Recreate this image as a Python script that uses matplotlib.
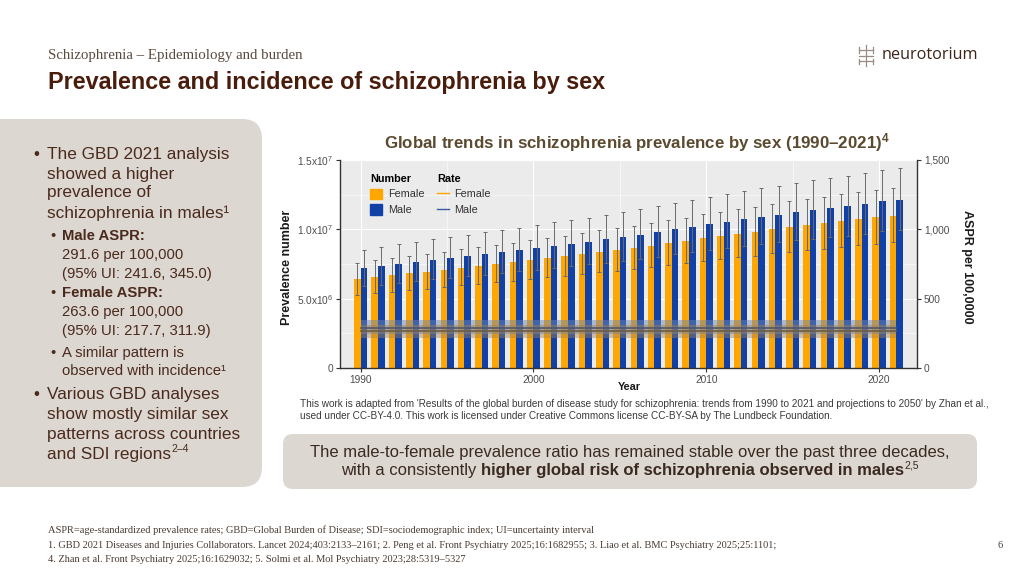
import numpy as np
import matplotlib.pyplot as plt
from matplotlib.patches import FancyBboxPatch, Patch
from matplotlib.lines import Line2D
from matplotlib.ticker import MultipleLocator

plt.rcParams['font.family'] = ['Liberation Sans', 'DejaVu Sans']
plt.rcParams['mathtext.fontset'] = 'custom'
plt.rcParams['mathtext.rm'] = 'Liberation Sans'
plt.rcParams['mathtext.bf'] = 'Liberation Sans:bold'
plt.rcParams['mathtext.it'] = 'Liberation Sans:italic'

# --- data (prevalence number in millions) ---
years = list(range(1990, 2022))
female_num = [6.41, 6.55, 6.68, 6.82, 6.95, 7.09, 7.23, 7.36, 7.50, 7.63, 7.77, 7.91, 8.05, 8.21, 8.37, 8.51,
              8.67, 8.83, 8.98, 9.16, 9.34, 9.52, 9.66, 9.82, 10.01, 10.16, 10.29, 10.43, 10.57, 10.73, 10.86, 10.98]
female_lo = [5.29, 5.40, 5.51, 5.63, 5.73, 5.85, 5.96, 6.07, 6.19, 6.29, 6.41, 6.53, 6.64, 6.77, 6.91, 7.02,
             7.15, 7.28, 7.41, 7.56, 7.71, 7.85, 7.97, 8.10, 8.26, 8.38, 8.49, 8.60, 8.72, 8.85, 8.96, 9.06]
female_hi = [7.60, 7.76, 7.92, 8.08, 8.24, 8.40, 8.57, 8.72, 8.89, 9.04, 9.21, 9.37, 9.54, 9.73, 9.92, 10.08,
             10.27, 10.46, 10.64, 10.85, 11.07, 11.28, 11.45, 11.64, 11.86, 12.04, 12.19, 12.36, 12.53, 12.72, 12.87, 13.01]
male_num = [7.18, 7.33, 7.49, 7.64, 7.79, 7.94, 8.08, 8.22, 8.36, 8.51, 8.65, 8.82, 8.97, 9.11, 9.27, 9.44,
            9.62, 9.81, 10.01, 10.19, 10.37, 10.54, 10.71, 10.88, 11.05, 11.23, 11.38, 11.51, 11.65, 11.82, 12.01, 12.13]
male_lo = [5.89, 6.01, 6.14, 6.26, 6.39, 6.51, 6.63, 6.74, 6.86, 6.98, 7.09, 7.23, 7.36, 7.47, 7.60, 7.74,
           7.89, 8.04, 8.21, 8.36, 8.50, 8.64, 8.78, 8.92, 9.06, 9.21, 9.33, 9.44, 9.55, 9.69, 9.85, 9.95]
male_hi = [8.54, 8.72, 8.91, 9.09, 9.27, 9.45, 9.62, 9.78, 9.95, 10.13, 10.29, 10.50, 10.67, 10.84, 11.03, 11.23,
           11.45, 11.67, 11.91, 12.13, 12.34, 12.54, 12.74, 12.95, 13.15, 13.36, 13.54, 13.70, 13.86, 14.07, 14.29, 14.43]

# age-standardised prevalence rate per 100,000 (point, lower, upper)
female_rate = [263.6, 217.7, 311.9]
male_rate = [291.6, 241.6, 345.0]

ORANGE = '#FFA600'
BLUE = '#1140A6'
BROWN = '#4a2a1c'
BOX = '#ddd7d1'

fig = plt.figure(figsize=(10.24, 5.76), dpi=100)
fig.patch.set_facecolor('white')
renderer = fig.canvas.get_renderer()

# background axes in pixel coordinates for the slide furniture
bg = fig.add_axes([0, 0, 1, 1])
bg.set_xlim(0, 1024)
bg.set_ylim(576, 0)
bg.axis('off')

bg.add_patch(FancyBboxPatch((-40, 119), 302, 368, boxstyle='round,pad=0,rounding_size=20',
                            fc=BOX, ec='none'))
bg.add_patch(FancyBboxPatch((283, 434), 694, 55, boxstyle='round,pad=0,rounding_size=10',
                            fc=BOX, ec='none'))

bg.text(48, 56, 'Schizophrenia \u2013 Epidemiology and burden', family='Liberation Serif',
        fontsize=10.7, color='#5a4a3e', va='center')
bg.text(48, 83, 'Prevalence and incidence of schizophrenia by sex', fontsize=16.8,
        fontweight='bold', color='#4a1c0c', va='center')

# logo
bg.text(882, 55, 'neurotorium', family='Open Sans', fontsize=11.7, color='#3d2418', va='center')
for seg in [((866, 866), (45, 66)), ((859, 873), (50, 50)), ((859, 873), (56, 56)), ((859, 873), (61, 61)),
            ((859, 859), (47, 53)), ((873, 873), (47, 53)), ((859, 859), (59, 64)), ((873, 873), (59, 64))]:
    bg.add_line(Line2D(seg[0], seg[1], color='#9a8c84', lw=0.9))

# left bullet text
big = 12.4
small = 10.7
bg.text(33, 154, '\u2022', fontsize=big, color=BROWN, va='center')
for y, s in [(154, 'The GBD 2021 analysis'), (174, 'showed a higher'), (193, 'prevalence of'),
             (213, 'schizophrenia in males\u00b9')]:
    bg.text(47, y, s, fontsize=big, color=BROWN, va='center')
for yb, lines in [(236, ['Male ASPR:', '291.6 per 100,000', '(95% UI: 241.6, 345.0)']),
                  (293, ['Female ASPR:', '263.6 per 100,000', '(95% UI: 217.7, 311.9)'])]:
    bg.text(50, yb, '\u2022', fontsize=small, color=BROWN, va='center')
    bg.text(62, yb, lines[0], fontsize=small, color=BROWN, va='center', fontweight='bold')
    bg.text(62, yb + 19, lines[1], fontsize=small, color=BROWN, va='center')
    bg.text(62, yb + 38, lines[2], fontsize=small, color=BROWN, va='center')
bg.text(50, 353, '\u2022', fontsize=small, color=BROWN, va='center')
bg.text(62, 353, 'A similar pattern is', fontsize=small, color=BROWN, va='center')
bg.text(62, 371, 'observed with incidence\u00b9', fontsize=small, color=BROWN, va='center')
bg.text(33, 394, '\u2022', fontsize=big, color=BROWN, va='center')
last = None
for y, s in [(394, 'Various GBD analyses'), (414, 'show mostly similar sex'),
             (434, 'patterns across countries'), (454, 'and SDI regions')]:
    last = bg.text(47, y, s, fontsize=big, color=BROWN, va='center')
bg.text(47 + last.get_window_extent(renderer).width + 0.5, 449, '2\u20134', fontsize=7.5,
        color=BROWN, va='center')

# chart
ax = fig.add_axes([340 / 1024, 1 - 368 / 576, 577 / 1024, 208 / 576])
ax.set_facecolor('#ebebeb')
x = np.array(years)
fn = np.array(female_num) * 1e6
mn = np.array(male_num) * 1e6
w = 0.38
ax.bar(x - 0.19, fn, w, color=ORANGE, zorder=2)
ax.bar(x + 0.19, mn, w, color=BLUE, zorder=2)
ax.errorbar(x - 0.19, fn, yerr=[fn - np.array(female_lo) * 1e6, np.array(female_hi) * 1e6 - fn],
            fmt='none', ecolor='#6a6a6a', elinewidth=0.7, capsize=1.2, capthick=0.7, zorder=3)
ax.errorbar(x + 0.19, mn, yerr=[mn - np.array(male_lo) * 1e6, np.array(male_hi) * 1e6 - mn],
            fmt='none', ecolor='#6a6a6a', elinewidth=0.7, capsize=1.2, capthick=0.7, zorder=3)
ax.set_xlim(1988.8, 2022.2)
ax.set_ylim(0, 1.5e7)
ax.set_yticks([0, 5e6, 1e7, 1.5e7])
ax.set_yticklabels(['0', r'5.0x10$^{6}$', r'1.0x10$^{7}$', r'1.5x10$^{7}$'])
ax.set_xticks([1990, 2000, 2010, 2020])
ax.yaxis.set_minor_locator(MultipleLocator(2.5e6))
ax.xaxis.set_minor_locator(MultipleLocator(5))
ax.grid(True, which='major', color='white', lw=0.8, zorder=0)
ax.grid(True, which='minor', color='white', lw=0.4, zorder=0)
ax.tick_params(which='minor', length=0)
ax.tick_params(which='major', labelsize=7.3, labelcolor='#4d4d4d', color='#333333', length=3, pad=2)
for s in ['top', 'right']:
    ax.spines[s].set_visible(False)
for s in ['left', 'bottom']:
    ax.spines[s].set_color('#333333')
    ax.spines[s].set_linewidth(1.0)

ax2 = ax.twinx()
ax2.set_ylim(0, 1500)
ax2.set_yticks([0, 500, 1000, 1500])
ax2.set_yticklabels(['0', '500', '1,000', '1,500'])
ax2.tick_params(labelsize=7.3, labelcolor='#4d4d4d', color='#333333', length=3, pad=2)
for s in ['top', 'left', 'bottom']:
    ax2.spines[s].set_visible(False)
ax2.spines['right'].set_color('#333333')
ax2.spines['right'].set_linewidth(1.0)
span = [years[0], years[-1]]
ax2.fill_between(span, [male_rate[1]] * 2, [male_rate[2]] * 2, color='#6f86b0', alpha=0.5, lw=0)
ax2.fill_between(span, [female_rate[1]] * 2, [female_rate[2]] * 2, color='#a08458', alpha=0.45, lw=0)
ax2.plot(span, [male_rate[0]] * 2, color='#4e5670', lw=1.2)
ax2.plot(span, [female_rate[0]] * 2, color='#6a5c4a', lw=1.2)

leg_kw = dict(frameon=False, fontsize=7.8, alignment='left', handlelength=1.1, handleheight=1.1,
              handletextpad=0.5, labelspacing=0.45, borderaxespad=0, labelcolor='#333333')
leg1 = ax2.legend(handles=[Patch(color=ORANGE), Patch(color=BLUE)], labels=['Female', 'Male'],
                  title='Number', loc='upper left', bbox_to_anchor=(0.045, 0.955),
                  title_fontproperties={'weight': 'bold', 'size': 7.8}, **leg_kw)
ax2.add_artist(leg1)
ax2.legend(handles=[Line2D([], [], color=ORANGE, lw=1), Line2D([], [], color='#3b5aa0', lw=1)],
           labels=['Female', 'Male'], title='Rate', loc='upper left', bbox_to_anchor=(0.161, 0.955),
           title_fontproperties={'weight': 'bold', 'size': 7.8}, **leg_kw)

bg.text(637, 143, 'Global trends in schizophrenia prevalence by sex (1990\u20132021)$^{\\mathbf{4}}$',
        fontsize=12.2, fontweight='bold', color='#5b4a30', ha='center', va='center')
bg.text(287, 267, 'Prevalence number', fontsize=9, fontweight='bold', rotation=90,
        ha='center', va='center', color='#1a1a1a')
bg.text(967, 267, 'ASPR per 100,0000', fontsize=9, fontweight='bold', rotation=270,
        ha='center', va='center', color='#1a1a1a')
bg.text(629, 387, 'Year', fontsize=7.8, fontweight='bold', ha='center', va='center', color='#1a1a1a')

bg.text(300, 404, "This work is adapted from 'Results of the global burden of disease study for schizophrenia: "
        "trends from 1990 to 2021 and projections to 2050' by Zhan et al.,", fontsize=7.2,
        color='#3a3a3a', va='center')
bg.text(300, 416, 'used under CC-BY-4.0. This work is licensed under Creative Commons license CC-BY-SA '
        'by The Lundbeck Foundation.', fontsize=7.2, color='#3a3a3a', va='center')

# callout
cfs = 12
bg.text(630, 452, 'The male-to-female prevalence ratio has remained stable over the past three decades,',
        fontsize=cfs, color='#3a2a20', ha='center', va='center')
parts = [('with a consistently', 'normal', cfs), (' ', 'normal', cfs),
         ('higher global risk of schizophrenia observed in males', 'bold', cfs), ('2,5', 'normal', 7.5)]
objs = []
for s, wt, fs in parts:
    objs.append(bg.text(0, 471, s, fontsize=fs, fontweight=wt, color='#3a2a20', va='center'))
widths = []
for o, (s, wt, fs) in zip(objs, parts):
    if s == ' ':
        a = bg.text(0, 0, 'a a', fontsize=fs)
        b = bg.text(0, 0, 'aa', fontsize=fs)
        widths.append(a.get_window_extent(renderer).width - b.get_window_extent(renderer).width)
        a.remove()
        b.remove()
    else:
        widths.append(o.get_window_extent(renderer).width)
xpos = 630 - sum(widths) / 2
for o, wd, (s, wt, fs) in zip(objs, widths, parts):
    o.set_x(xpos)
    if s == '2,5':
        o.set_y(465)
    xpos += wd

# footnotes
fkw = dict(family='Liberation Serif', fontsize=7.5, color='#4a3a30', va='center')
bg.text(48, 530, 'ASPR=age-standardized prevalence rates; GBD=Global Burden of Disease; '
        'SDI=sociodemographic index; UI=uncertainty interval', **fkw)
bg.text(48, 545, '1. GBD 2021 Diseases and Injuries Collaborators. Lancet 2024;403:2133\u20132161; '
        '2. Peng et al. Front Psychiatry 2025;16:1682955; 3. Liao et al. BMC Psychiatry 2025;25:1101;', **fkw)
bg.text(48, 559, '4. Zhan et al. Front Psychiatry 2025;16:1629032; 5. Solmi et al. '
        'Mol Psychiatry 2023;28:5319\u20135327', **fkw)
bg.text(998, 545, '6', **fkw)

fig.savefig('out.png', dpi=100, facecolor='white')
